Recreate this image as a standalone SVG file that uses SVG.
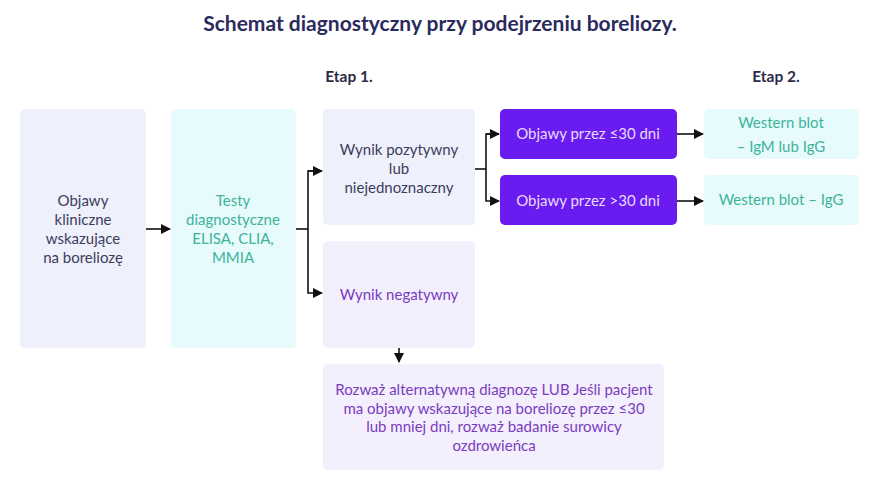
<svg xmlns="http://www.w3.org/2000/svg" width="880" height="480" viewBox="0 0 880 480">
<defs>
<marker id="ah" viewBox="0 0 10 10" refX="9" refY="5" markerWidth="10" markerHeight="10" markerUnits="userSpaceOnUse" orient="auto">
<path d="M0,0 L10,5 L0,10 z" fill="#111"/>
</marker>
<style>
text{font-family:"Lato","Liberation Sans",sans-serif;font-size:15px;text-anchor:middle}
.title{font-size:21px;font-weight:bold;fill:#2b2a5c}
.etap{font-size:15.5px;font-weight:bold;fill:#2b2b48}
.lav{fill:#eef0fc}
.cyan{fill:#e7fbfc}
.pur{fill:#f3effd}
.vio{fill:#6a1bf0}
.dk{fill:#3d3d5c}
.tl{fill:#3db39b}
.pt{fill:#7a3cbf}
.wt{fill:#e6dcff}
.c{fill:none;stroke:#111;stroke-width:1.6}
</style>
</defs>
<rect width="880" height="480" fill="#ffffff"/>
<text class="title" x="440" y="31">Schemat diagnostyczny przy podejrzeniu boreliozy.</text>
<text class="etap" x="349" y="82">Etap 1.</text>
<text class="etap" x="776" y="82">Etap 2.</text>

<g id="objawy">
<rect class="lav" x="20" y="109" width="126" height="239" rx="5"/>
<text class="dk" x="83" y="206">Objawy</text>
<text class="dk" x="83" y="225">kliniczne</text>
<text class="dk" x="83" y="244">wskazujące</text>
<text class="dk" x="83" y="263">na boreliozę</text>
</g>
<g id="testy">
<rect class="cyan" x="171" y="109" width="125" height="239" rx="5"/>
<text class="tl" x="233" y="206">Testy</text>
<text class="tl" x="233" y="225">diagnostyczne</text>
<text class="tl" x="233" y="244">ELISA, CLIA,</text>
<text class="tl" x="233" y="263">MMIA</text>
</g>
<g id="pozytywny">
<rect class="lav" x="323" y="109" width="152" height="116" rx="5"/>
<text class="dk" x="399" y="155">Wynik pozytywny</text>
<text class="dk" x="399" y="174">lub</text>
<text class="dk" x="399" y="193">niejednoznaczny</text>
</g>
<g id="negatywny">
<rect class="pur" x="323" y="241" width="152" height="107" rx="5"/>
<text class="pt" x="399" y="300">Wynik negatywny</text>
</g>
<g id="rozwaz">
<rect class="pur" x="323" y="364" width="341" height="106" rx="5"/>
<text class="pt" x="494" y="395">Rozważ alternatywną diagnozę LUB Jeśli pacjent</text>
<text class="pt" x="494" y="414">ma objawy wskazujące na boreliozę przez ≤30</text>
<text class="pt" x="494" y="432">lub mniej dni, rozważ badanie surowicy</text>
<text class="pt" x="494" y="451">ozdrowieńca</text>
</g>
<g id="le30">
<rect class="vio" x="500" y="109" width="177" height="50" rx="5"/>
<text class="wt" x="588" y="139">Objawy przez ≤30 dni</text>
</g>
<g id="gt30">
<rect class="vio" x="500" y="175" width="177" height="50" rx="5"/>
<text class="wt" x="588" y="206">Objawy przez &gt;30 dni</text>
</g>
<g id="wb1">
<rect class="cyan" x="704" y="109" width="155" height="50" rx="5"/>
<text class="tl" x="781" y="128">Western blot</text>
<text class="tl" x="781" y="152">– IgM lub IgG</text>
</g>
<g id="wb2">
<rect class="cyan" x="704" y="175" width="155" height="50" rx="5"/>
<text class="tl" x="781" y="205">Western blot – IgG</text>
</g>

<g id="connectors">
<line class="c" x1="146" y1="229" x2="170" y2="229" marker-end="url(#ah)"/>
<line class="c" x1="296" y1="229" x2="308" y2="229"/>
<path class="c" d="M322,171 H308 V293 H322" marker-end="url(#ah)"/>
<line class="c" x1="308" y1="171" x2="322" y2="171" marker-end="url(#ah)"/>
<line class="c" x1="475" y1="169" x2="486" y2="169"/>
<path class="c" d="M499,134 H486 V201 H499" marker-end="url(#ah)"/>
<line class="c" x1="486" y1="134" x2="499" y2="134" marker-end="url(#ah)"/>
<line class="c" x1="677" y1="134" x2="703" y2="134" marker-end="url(#ah)"/>
<line class="c" x1="677" y1="201" x2="703" y2="201" marker-end="url(#ah)"/>
<line class="c" x1="399" y1="348" x2="399" y2="362" marker-end="url(#ah)"/>
</g>
</svg>
